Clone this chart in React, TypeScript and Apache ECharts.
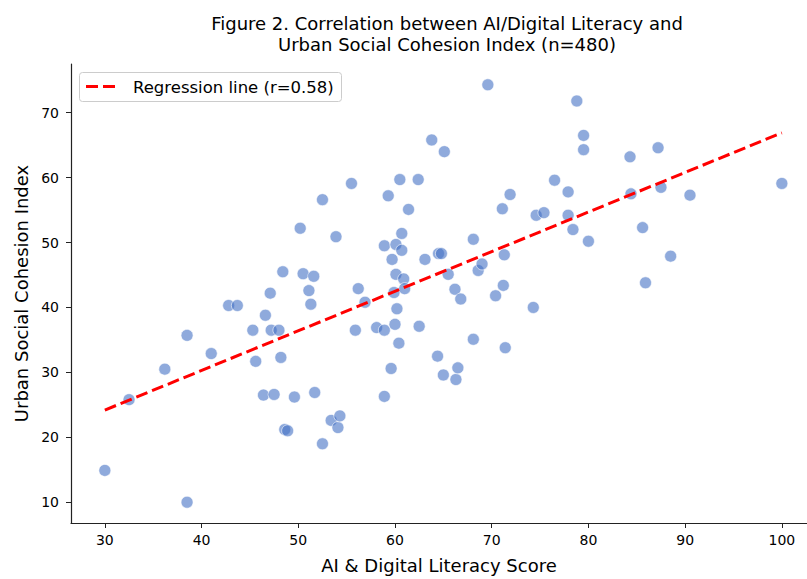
import React, { useEffect, useRef } from "react";
import * as echarts from "echarts";

const titleLines = [
  "Figure 2. Correlation between AI/Digital Literacy and",
  "Urban Social Cohesion Index (n=480)",
];
const xAxisName = "AI & Digital Literacy Score";
const yAxisName = "Urban Social Cohesion Index";
const legendLabel = "Regression line (r=0.58)";

const xTicks = [30, 40, 50, 60, 70, 80, 90, 100];
const yTicks = [10, 20, 30, 40, 50, 60, 70];

const literacy = [
  30, 32.5, 38.5, 38.5, 36.2, 41, 42.8, 43.7, 45.3, 45.6, 46.4, 46.6, 47.1, 47.2, 47.5, 48, 48.2,
  48.4, 48.6, 48.9, 49.6, 50.2, 50.5, 51.1, 51.3, 51.6, 51.7, 52.5, 52.5, 53.4, 53.9, 54.1, 54.3,
  55.5, 55.9, 56.2, 56.9, 58.1, 58.9, 58.9, 58.9, 59.3, 59.6, 59.7, 59.9, 60, 60.1, 60.1, 60.2,
  60.4, 60.5, 60.7, 60.7, 60.9, 61, 61.4, 62.4, 62.5, 63.1, 63.8, 64.4, 64.5, 64.8, 65, 65.1,
  65.5, 66.2, 66.3, 66.5, 66.8, 68.1, 68.1, 68.6, 69, 69.6, 70.4, 71.1, 71.2, 71.3, 71.4, 71.9,
  74.3, 74.6, 75.4, 76.5, 77.9, 77.9, 78.4, 78.8, 79.5, 79.5, 80, 84.3, 84.4, 85.6, 85.9, 87.2,
  87.5, 88.5, 90.5, 100,
];
const cohesion = [
  14.9, 25.8, 10, 35.7, 30.5, 32.9, 40.3, 40.3, 36.5, 31.7, 26.5, 38.8, 42.2, 36.5, 26.6, 36.5, 32.3,
  45.5, 21.2, 21.0, 26.2, 52.2, 45.2, 42.6, 40.5, 44.8, 26.9, 56.6, 19.0, 22.6, 50.9, 21.5, 23.3,
  59.1, 36.5, 42.9, 40.8, 36.9, 36.5, 26.3, 49.5, 57.2, 30.6, 47.4, 42.3, 37.4, 49.7, 45.1, 39.8,
  34.5, 59.7, 51.4, 48.8, 44.4, 42.9, 55.1, 59.7, 37.1, 47.4, 65.8, 32.5, 48.3, 48.3, 29.6, 64.0,
  45.1, 42.8, 28.9, 30.7, 41.3, 35.1, 50.5, 45.7, 46.7, 74.3, 41.8, 55.2, 43.4, 48.1, 33.8, 57.4,
  40.0, 54.2, 54.6, 59.6, 57.8, 54.2, 52.0, 71.8, 66.5, 64.3, 50.2, 63.2, 57.5, 52.3, 43.8, 64.6,
  58.5, 47.9, 57.3, 59.1,
];

const regX = [30, 100];
const regY = [24.2, 66.9];

const FONT = "DejaVu Sans";

export default function App() {
  const ref = useRef<HTMLDivElement>(null);
  useEffect(() => {
    if (!ref.current) return;
    const chart = echarts.init(ref.current, undefined, { renderer: "svg" });
    const points = literacy.map((x, i) => [x, cohesion[i]]);
    const line = regX.map((x, i) => [x, regY[i]]);
    chart.setOption({
      animation: false,
      backgroundColor: "#ffffff",
      title: {
        text: titleLines.join("\n"),
        left: 442,
        top: 8,
        textAlign: "center",
        textStyle: {
          fontFamily: FONT,
          fontSize: 18,
          fontWeight: "normal",
          color: "#000",
          lineHeight: 21,
        },
      },
      grid: { left: 71, top: 64, width: 736, height: 460, containLabel: false },
      xAxis: {
        type: "value",
        min: 26.5,
        max: 102.6,
        name: xAxisName,
        nameLocation: "middle",
        nameGap: 33,
        nameTextStyle: { fontFamily: FONT, fontSize: 18, color: "#000" },
        splitLine: { show: false },
        axisLine: { show: true, lineStyle: { color: "#222", width: 1.2 } },
        axisTick: { show: true, length: 5, inside: false, customValues: xTicks, lineStyle: { color: "#222" } },
        axisLabel: { customValues: xTicks, margin: 10, fontFamily: FONT, fontSize: 14, color: "#000" },
      },
      yAxis: {
        type: "value",
        min: 6.8,
        max: 77.5,
        name: yAxisName,
        nameLocation: "middle",
        nameGap: 41,
        nameTextStyle: { fontFamily: FONT, fontSize: 18, color: "#000" },
        splitLine: { show: false },
        axisLine: { show: true, lineStyle: { color: "#222", width: 1.2 } },
        axisTick: { show: true, length: 5, inside: false, customValues: yTicks, lineStyle: { color: "#222" } },
        axisLabel: { customValues: yTicks, margin: 12, fontFamily: FONT, fontSize: 14, color: "#000" },
      },
      series: [
        {
          type: "scatter",
          data: points,
          symbolSize: 12,
          itemStyle: { color: "#4472C4", opacity: 0.6, borderColor: "#ffffff", borderWidth: 1 },
          silent: true,
        },
        {
          type: "line",
          data: line,
          symbol: "none",
          lineStyle: { color: "#ff0000", width: 3, type: [12, 5] },
          silent: true,
          z: 3,
        },
      ],
      graphic: [
        {
          type: "rect",
          shape: { x: 79.5, y: 72.5, width: 262, height: 29, r: 3 },
          style: { fill: "rgba(255,255,255,0.8)", stroke: "#cccccc", lineWidth: 1 },
          z: 10,
        },
        {
          type: "line",
          shape: { x1: 86, y1: 86.5, x2: 116, y2: 86.5 },
          style: { stroke: "#ff0000", lineWidth: 3, lineDash: [12, 5] },
          z: 11,
        },
        {
          type: "text",
          x: 133,
          y: 87,
          style: {
            text: legendLabel,
            fontFamily: FONT,
            fontSize: 16.5,
            fill: "#000",
            verticalAlign: "middle",
            align: "left",
          },
          z: 11,
        },
      ],
    });
    return () => chart.dispose();
  }, []);
  return (
    <div
      ref={ref}
      style={{ position: "fixed", left: 0, top: 0, width: 807, height: 579 }}
    />
  );
}
